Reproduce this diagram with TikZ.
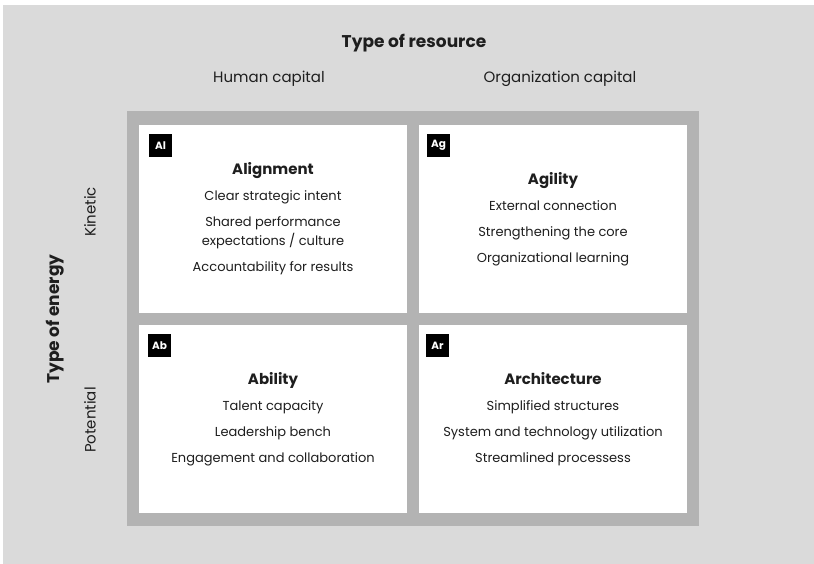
\documentclass[tikz,border=0pt]{standalone}
\usepackage{fontspec}
\setmainfont{Poppins}
\usetikzlibrary{positioning}
\definecolor{bggray}{RGB}{218,218,218}
\definecolor{framegray}{RGB}{179,179,179}
\definecolor{ink}{RGB}{30,30,30}

\begin{document}
\begin{tikzpicture}[x=1pt,y=-1pt,node distance=280pt,text=ink,font=\fontsize{13}{19}\selectfont]

\tikzstyle{panel}=[fill=white,minimum width=268pt,minimum height=188pt,inner sep=0pt,align=center]
\tikzstyle{tag}=[fill=black,text=white,font=\fontsize{10.5}{12}\selectfont\bfseries,minimum size=23pt,inner sep=0pt,anchor=north west]
\tikzstyle{title}=[font=\fontsize{17}{20}\selectfont\bfseries]
\tikzstyle{axis}=[font=\fontsize{15}{18}\selectfont]
\newcommand{\head}[1]{\textbf{\fontsize{15}{18}\selectfont #1}}

    \useasboundingbox (0,0) rectangle (814,564);
    \fill[bggray] (3,5) rectangle (814,564);
    \fill[framegray] (127,111) rectangle (699,526);

    \node[panel]                                  (al) at (273,219) {\head{Alignment}\\[7pt]
        Clear strategic intent\\[7pt] Shared performance\\ expectations / culture\\[7pt] Accountability for results};
    \node[panel,right of=al]                      (ag) {\head{Agility}\\[7pt]
        External connection\\[7pt] Strengthening the core\\[7pt] Organizational learning};
    \node[panel,below of=al,node distance=200pt]  (ab) {\head{Ability}\\[7pt]
        Talent capacity\\[7pt] Leadership bench\\[7pt] Engagement and collaboration};
    \node[panel,right of=ab]                      (ar) {\head{Architecture}\\[7pt]
        Simplified structures\\[7pt] System and technology utilization\\[7pt] Streamlined processess};

    \node[tag] (al-tag) at ([shift={(10pt,-9pt)}]al.north west) {Al};
    \node[tag] (ag-tag) at ([shift={(8pt,-9pt)}]ag.north west) {Ag};
    \node[tag] (ab-tag) at ([shift={(9pt,-9pt)}]ab.north west) {Ab};
    \node[tag] (ar-tag) at ([shift={(7pt,-9pt)}]ar.north west) {Ar};

    \node[title] (resource) at (414,43) {Type of resource};
    \node[axis]  (human)    at (269,79) {Human capital};
    \node[axis]  (orgcap)   at (560,79) {Organization capital};

    \node[title,rotate=90] (energy)    at (55,319) {Type of energy};
    \node[axis,rotate=90]  (kinetic)   at (90,212) {Kinetic};
    \node[axis,rotate=90]  (potential) at (90,420) {Potential};

\end{tikzpicture}
\end{document}
